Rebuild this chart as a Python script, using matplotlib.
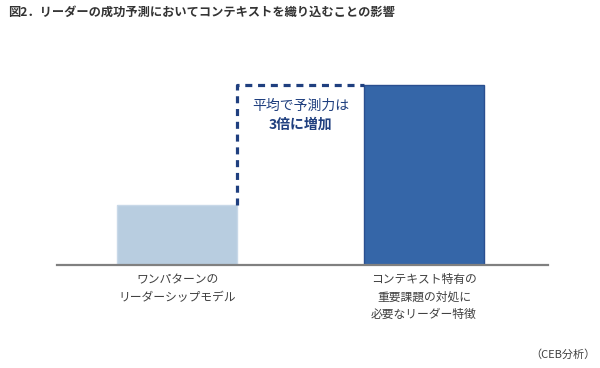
import matplotlib
matplotlib.use("Agg")
import matplotlib.pyplot as plt

plt.rcParams['font.family'] = ['Noto Sans CJK JP', 'DejaVu Sans']

# data
categories = ["ワンパターンの\nリーダーシップモデル",
              "コンテキスト特有の\n重要課題の対処に\n必要なリーダー特徴"]
values = [1.0, 3.0]
bar_colors = ["#b8cde0", "#3566a8"]
edge_colors = ["#c8d8e8", "#2a4f90"]
title = "図2．リーダーの成功予測においてコンテキストを織り込むことの影響"
note = "平均で予測力は"
note_bold = "3倍に増加"
source = "（CEB分析）"

fig = plt.figure(figsize=(6, 3.68), dpi=100)
ax = fig.add_axes([57/600, 1 - 265/368, 491/600, 205/368])

x = [0, 1]
w = 0.486
bars = ax.bar(x, values, width=w, color=bar_colors, edgecolor=edge_colors, linewidth=1)
ax.set_xlim(-0.486, 1.502)
ax.set_ylim(0, 205/60)

# dotted connector from bar1 top-right to bar2 top-left
navy = "#1f3f7f"
x1 = x[0] + w/2
x2 = x[1] - w/2
ax.plot([x1, x1, x2], [values[0], values[1], values[1]], color=navy, lw=2.3,
        linestyle=(0, (2.2, 1.8)), solid_capstyle='butt', zorder=3)

xm = (x1 + x2) / 2
ax.text(xm, values[1] - 0.35, note, ha='center', va='center', fontsize=10, color=navy)
ax.text(xm, values[1] - 0.66, note_bold, ha='center', va='center', fontsize=10,
        color=navy, fontweight='bold')

for s in ['top', 'right', 'left']:
    ax.spines[s].set_visible(False)
ax.spines['bottom'].set_color('#808080')
ax.spines['bottom'].set_linewidth(1.6)
ax.set_yticks([])
ax.set_xticks(x)
ax.set_xticklabels(categories, fontsize=8.5, color='#404040', linespacing=1.45, va='top')
ax.tick_params(axis='x', length=0, pad=6)

fig.text(8/600, 1 - 12/368, title, ha='left', va='center', fontsize=8.8,
         fontweight='bold', color='#333333')
fig.text(596/600, 1 - 355/368, source, ha='right', va='center', fontsize=8,
         color='#404040')

fig.savefig("out.png", dpi=100)
